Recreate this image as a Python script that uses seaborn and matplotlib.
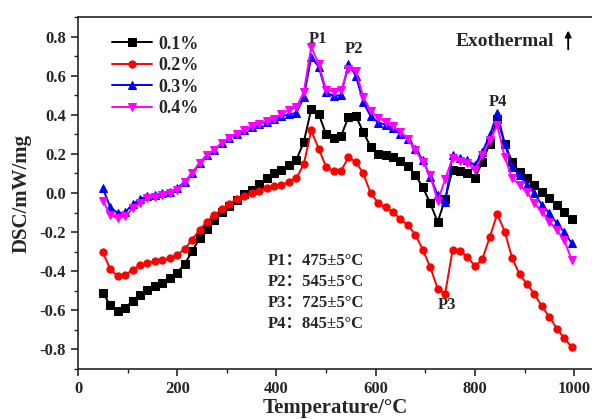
import matplotlib
matplotlib.use("Agg")
import matplotlib.pyplot as plt
import seaborn as sns
import pandas as pd
from matplotlib.ticker import MultipleLocator, FuncFormatter

temperature = [50, 65, 80, 95, 110, 125, 140, 155, 170, 185, 200, 215, 230, 245, 260, 275,
               290, 305, 320, 335, 350, 365, 380, 395, 410, 425, 440, 455, 470, 485, 500, 515,
               530, 545, 560, 575, 590, 605, 620, 635, 650, 665, 680, 695, 710, 725, 740, 755,
               770, 785, 800, 815, 830, 845, 860, 875, 890, 905, 920, 935, 950, 965, 980, 995]

dsc_01 = [-0.51, -0.575, -0.605, -0.59, -0.55, -0.52, -0.495, -0.477, -0.458, -0.436, -0.407,
          -0.363, -0.298, -0.232, -0.183, -0.14, -0.098, -0.068, -0.036, -0.003, 0.017, 0.045,
          0.076, 0.102, 0.12, 0.141, 0.169, 0.26, 0.428, 0.405, 0.30, 0.28, 0.29, 0.388, 0.393,
          0.312, 0.235, 0.200, 0.192, 0.185, 0.163, 0.137, 0.092, 0.029, -0.053, -0.149, -0.03,
          0.12, 0.112, 0.10, 0.075, 0.16, 0.253, 0.38, 0.253, 0.16, 0.105, 0.075, 0.041, 0.007,
          -0.027, -0.061, -0.095, -0.134]

dsc_02 = [-0.304, -0.389, -0.426, -0.42, -0.392, -0.37, -0.358, -0.35, -0.341, -0.333, -0.317,
          -0.285, -0.239, -0.188, -0.146, -0.112, -0.083, -0.056, -0.03, -0.015, 0.0, 0.012,
          0.024, 0.034, 0.043, 0.055, 0.075, 0.147, 0.32, 0.227, 0.134, 0.112, 0.113, 0.182,
          0.16, 0.10, -0.002, -0.05, -0.074, -0.098, -0.133, -0.165, -0.213, -0.29, -0.38,
          -0.49, -0.515, -0.29, -0.295, -0.325, -0.375, -0.338, -0.225, -0.107, -0.197, -0.333,
          -0.415, -0.466, -0.516, -0.58, -0.633, -0.693, -0.742, -0.788]

dsc_03 = [0.024, -0.073, -0.103, -0.098, -0.058, -0.031, -0.015, -0.01, -0.002, 0.007, 0.024,
          0.058, 0.10, 0.154, 0.193, 0.222, 0.256, 0.283, 0.304, 0.32, 0.338, 0.352, 0.365,
          0.376, 0.393, 0.402, 0.41, 0.49, 0.694, 0.646, 0.515, 0.497, 0.50, 0.66, 0.60, 0.465,
          0.392, 0.36, 0.35, 0.33, 0.30, 0.275, 0.227, 0.168, 0.083, -0.01, -0.047, 0.193,
          0.177, 0.168, 0.142, 0.21, 0.295, 0.408, 0.253, 0.134, 0.092, 0.041, -0.002, -0.061,
          -0.103, -0.154, -0.2, -0.256]

dsc_04 = [-0.039, -0.112, -0.129, -0.12, -0.078, -0.053, -0.027, -0.019, -0.01, 0.002, 0.015,
          0.055, 0.10, 0.154, 0.193, 0.222, 0.256, 0.283, 0.304, 0.32, 0.341, 0.355, 0.368,
          0.38, 0.405, 0.422, 0.439, 0.516, 0.748, 0.66, 0.525, 0.519, 0.525, 0.635, 0.625,
          0.49, 0.42, 0.385, 0.363, 0.341, 0.312, 0.278, 0.219, 0.16, 0.09, -0.042, 0.07, 0.18,
          0.163, 0.155, 0.117, 0.193, 0.27, 0.346, 0.185, 0.075, 0.041, 0.005, -0.053, -0.095,
          -0.146, -0.19, -0.24, -0.343]

series_labels = ["0.1%", "0.2%", "0.3%", "0.4%"]
series_values = [dsc_01, dsc_02, dsc_03, dsc_04]
series_colors = ["#000000", "#ff0000", "#0000ff", "#ff00ff"]
series_markers = ["s", "o", "^", "v"]

peak_labels = ["P1", "P2", "P3", "P4"]
peak_ranges = ["475±5°C", "545±5°C", "725±5°C", "845±5°C"]

sns.set_style("ticks")
plt.rcParams["font.family"] = ["Liberation Serif", "Noto Sans CJK SC", "DejaVu Sans"]
plt.rcParams["font.weight"] = "bold"
plt.rcParams["axes.unicode_minus"] = False

fig = plt.figure(figsize=(5.92, 4.2), dpi=100)
ax = fig.add_axes([0.1318, 0.1214, 0.8682, 0.8381])

for lab, vals, col, mk in zip(series_labels, series_values, series_colors, series_markers):
    df = pd.DataFrame({"T": temperature, "DSC": vals})
    sns.lineplot(data=df, x="T", y="DSC", ax=ax, color=col, marker=mk, markersize=5.2,
                 markeredgecolor=col, linewidth=1.4, label=lab, sort=False)

ax.set_xlim(0, 1036)
ax.set_ylim(-0.9, 0.9)
ax.xaxis.set_major_locator(MultipleLocator(200))
ax.xaxis.set_minor_locator(MultipleLocator(100))
ax.yaxis.set_major_locator(MultipleLocator(0.2))
ax.yaxis.set_minor_locator(MultipleLocator(0.1))
ax.yaxis.set_major_formatter(FuncFormatter(lambda v, p: f"{v:.1f}".replace("-0.0", "0.0")))

ax.tick_params(axis="both", which="major", direction="out", length=5, width=1.2,
               labelsize=12)
ax.tick_params(axis="both", which="minor", direction="out", length=3, width=1.0)
for lab in ax.get_xticklabels() + ax.get_yticklabels():
    lab.set_fontweight("bold")

for s in ["left", "bottom", "top"]:
    ax.spines[s].set_linewidth(1.2)
ax.spines["right"].set_visible(False)

ax.set_xlabel("Temperature/°C", fontsize=15, fontweight="bold", labelpad=1)
ax.set_ylabel("DSC/mW/mg", fontsize=15, fontweight="bold", labelpad=6)

leg = ax.legend(loc="upper left", bbox_to_anchor=(0.045, 0.978), frameon=False,
                prop={"size": 13, "weight": "bold"}, handlelength=2.2,
                labelspacing=0.25, handletextpad=0.35, borderaxespad=0.2)

ax.text(484, 0.785, "P1", ha="center", va="center", fontsize=12, fontweight="bold")
ax.text(556, 0.735, "P2", ha="center", va="center", fontsize=12, fontweight="bold")
ax.text(744, -0.575, "P3", ha="center", va="center", fontsize=12, fontweight="bold")
ax.text(847, 0.465, "P4", ha="center", va="center", fontsize=12, fontweight="bold")

ax.text(860, 0.775, "Exothermal", ha="center", va="center", fontsize=14, fontweight="bold")
ax.annotate("", xy=(988, 0.845), xytext=(988, 0.72),
            arrowprops=dict(arrowstyle="-|>", color="black", lw=1.3, mutation_scale=9))

for i, (pl, pr) in enumerate(zip(peak_labels, peak_ranges)):
    ax.text(383, -0.345 - i * 0.108, pl + "：" + pr, ha="left", va="center",
            fontsize=12, fontweight="bold",
            family=["Liberation Serif", "Noto Sans CJK SC"])

fig.savefig("out.png", dpi=100)
